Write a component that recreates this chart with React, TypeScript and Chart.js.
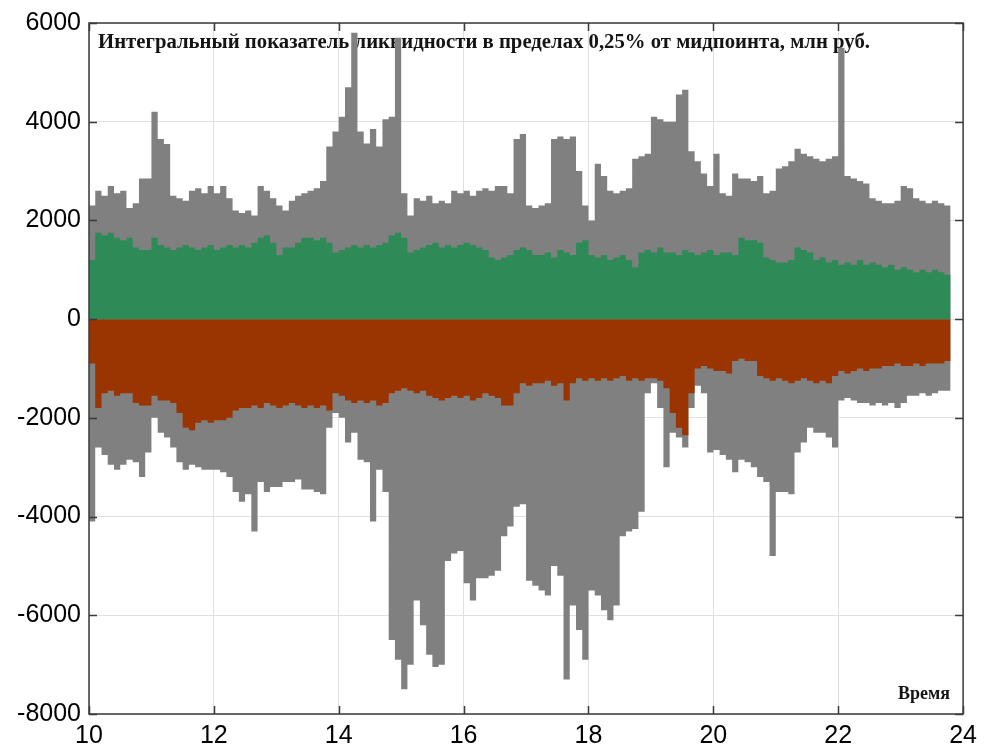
import React, { useEffect, useRef } from "react";
import { Chart, registerables } from "chart.js";

Chart.register(...registerables);

const START_HOUR = 10;
const STEP_HOUR = 0.1;

const upperTotal = [
  2300, 2600, 2500, 2700, 2550, 2600, 2250, 2350, 2850, 2850,
  4200, 3650, 3550, 2500, 2450, 2400, 2600, 2650, 2550, 2700,
  2550, 2700, 2450, 2200, 2150, 2200, 2100, 2700, 2600, 2450,
  2300, 2200, 2400, 2500, 2550, 2600, 2650, 2800, 3500, 3800,
  4100, 4700, 5800, 3800, 3560, 3850, 3500, 4050, 4100, 5700,
  2550, 2100, 2450, 2400, 2500, 2350, 2400, 2350, 2600, 2550,
  2600, 2500, 2600, 2650, 2600, 2700, 2700, 2550, 3650, 3750,
  2300, 2250, 2300, 2350, 3650, 3700, 3650, 3700, 3000, 2300,
  2000, 3150, 2900, 2600, 2550, 2600, 2650, 3250, 3300, 3350,
  4100, 4050, 4000, 4000, 4550, 4650, 3400, 3200, 2950, 2700,
  3350, 2550, 2500, 2950, 2850, 2850, 2800, 2900, 2550, 2600,
  3050, 3100, 3200, 3450, 3350, 3300, 3250, 3200, 3250, 3300,
  5500, 2900, 2850, 2800, 2750, 2450, 2400, 2350, 2350, 2400,
  2700, 2650, 2450, 2400, 2350, 2400, 2350, 2300, 2300,
];

const bidLiquidity = [
  1200, 1750, 1700, 1750, 1650, 1600, 1650, 1450, 1400, 1400,
  1650, 1500, 1450, 1400, 1450, 1500, 1450, 1400, 1450, 1500,
  1400, 1450, 1500, 1450, 1500, 1450, 1550, 1650, 1700, 1550,
  1300, 1450, 1450, 1550, 1650, 1650, 1600, 1650, 1550, 1350,
  1400, 1450, 1500, 1450, 1500, 1450, 1500, 1550, 1700, 1750,
  1650, 1350, 1400, 1450, 1500, 1550, 1450, 1500, 1450, 1500,
  1550, 1500, 1450, 1400, 1250, 1200, 1250, 1300, 1400, 1450,
  1400, 1300, 1300, 1350, 1250, 1400, 1350, 1300, 1550, 1600,
  1300, 1250, 1300, 1200, 1250, 1300, 1200, 1050, 1350, 1400,
  1350, 1450, 1350, 1350, 1300, 1400, 1350, 1300, 1350, 1400,
  1300, 1350, 1350, 1300, 1650, 1600, 1600, 1550, 1250, 1200,
  1150, 1150, 1200, 1450, 1400, 1350, 1200, 1250, 1150, 1200,
  1100, 1150, 1100, 1200, 1100, 1150, 1100, 1050, 1100, 1000,
  1050, 1000, 950, 1000, 950, 1000, 950, 900, 900,
];

const askLiquidity = [
  -900, -1800, -1500, -1450, -1550, -1500, -1500, -1700, -1750, -1750,
  -1550, -1650, -1650, -1700, -1900, -2200, -2250, -2100, -2050, -2100,
  -2050, -2050, -2000, -1850, -1800, -1800, -1750, -1800, -1700, -1750,
  -1800, -1750, -1700, -1750, -1800, -1750, -1800, -1750, -1850, -1500,
  -1550, -1650, -1700, -1650, -1700, -1650, -1750, -1700, -1500, -1450,
  -1400, -1450, -1500, -1450, -1550, -1600, -1650, -1600, -1550, -1600,
  -1550, -1650, -1600, -1500, -1550, -1600, -1750, -1750, -1500, -1300,
  -1350, -1300, -1300, -1250, -1350, -1300, -1650, -1300, -1200, -1250,
  -1200, -1250, -1200, -1250, -1200, -1150, -1250, -1200, -1250, -1200,
  -1200, -1250, -1400, -1900, -2200, -2350, -1500, -1000, -950, -1000,
  -1050, -1050, -1100, -850, -800, -850, -850, -1150, -1200, -1250,
  -1200, -1250, -1300, -1250, -1200, -1250, -1300, -1250, -1300, -1150,
  -1050, -1100, -1050, -1000, -1050, -1000, -1000, -950, -950, -900,
  -950, -950, -900, -950, -900, -900, -900, -850, -850,
];

const lowerTotal = [
  -4100, -2600, -2750, -2950, -3050, -2950, -2850, -2900, -3200, -2700,
  -2000, -2300, -2400, -2600, -2900, -3050, -2950, -3000, -3050, -3050,
  -3050, -3100, -3200, -3500, -3700, -3550, -4300, -3300, -3500, -3400,
  -3400, -3300, -3300, -3250, -3450, -3450, -3500, -3550, -2200, -1900,
  -2000, -2500, -2300, -2850, -2900, -4100, -3050, -3500, -6500, -6900,
  -7500, -7000, -5700, -6200, -6800, -7050, -7000, -4900, -4750, -4700,
  -5350, -5700, -5250, -5250, -5200, -5100, -4400, -4200, -3800, -3750,
  -5300, -5400, -5500, -5600, -5000, -5200, -7300, -5800, -6300, -6900,
  -5500, -5600, -5900, -6100, -5800, -4400, -4300, -4250, -3900, -1500,
  -1300, -1800, -3000, -2300, -2400, -2600, -1800, -1350, -1500, -2700,
  -2650, -2750, -2850, -3100, -2850, -2900, -3000, -3200, -3300, -4800,
  -3500, -3500, -3550, -2700, -2500, -2200, -2300, -2300, -2400, -2600,
  -1650, -1600, -1650, -1700, -1700, -1750, -1700, -1750, -1700, -1800,
  -1700, -1550, -1550, -1500, -1550, -1500, -1450, -1450, -1400,
];

const xTicks = [10, 12, 14, 16, 18, 20, 22, 24];
const yTicks = [-8000, -6000, -4000, -2000, 0, 2000, 4000, 6000];

const TITLE = "Интегральный показатель ликвидности в пределах 0,25% от мидпоинта, млн руб.";
const X_LABEL = "Время";

const toPoints = (vals: number[]) =>
  vals.map((v, i) => ({ x: +(START_HOUR + i * STEP_HOUR).toFixed(2), y: v }));

const overlayPlugin = {
  id: "overlay",
  beforeDatasetsDraw(chart: any) {
    const { ctx, chartArea } = chart;
    ctx.save();
    ctx.fillStyle = "#141414";
    ctx.textBaseline = "alphabetic";
    ctx.textAlign = "left";
    ctx.font = 'bold 20px "Liberation Serif", "Times New Roman", serif';
    const w = ctx.measureText(TITLE).width;
    ctx.translate(chartArea.left + 9, chartArea.top + 25);
    ctx.scale(772 / w, 1);
    ctx.fillText(TITLE, 0, 0);
    ctx.restore();

    ctx.save();
    ctx.fillStyle = "#141414";
    ctx.font = 'bold 18px "Liberation Serif", "Times New Roman", serif';
    ctx.textAlign = "right";
    ctx.textBaseline = "alphabetic";
    ctx.fillText(X_LABEL, chartArea.right - 13, chartArea.bottom - 15);
    ctx.restore();
  },
  afterDatasetsDraw(chart: any) {
    const { ctx, chartArea, scales } = chart;
    const { left, right, top, bottom } = chartArea;
    ctx.save();
    ctx.strokeStyle = "#3a3a3a";
    ctx.lineWidth = 1.5;
    ctx.beginPath();
    scales.x.ticks.forEach((t: any) => {
      const px = Math.round(scales.x.getPixelForValue(t.value)) + 0.5;
      ctx.moveTo(px, bottom);
      ctx.lineTo(px, bottom - 8);
      ctx.moveTo(px, top);
      ctx.lineTo(px, top + 8);
    });
    scales.y.ticks.forEach((t: any) => {
      const py = Math.round(scales.y.getPixelForValue(t.value)) + 0.5;
      ctx.moveTo(left, py);
      ctx.lineTo(left + 8, py);
      ctx.moveTo(right, py);
      ctx.lineTo(right - 8, py);
    });
    ctx.stroke();
    ctx.strokeRect(left, top, right - left, bottom - top);
    ctx.restore();
  },
};

export default function App() {
  const ref = useRef<HTMLCanvasElement | null>(null);

  useEffect(() => {
    document.body.style.margin = "0";
    const canvas = ref.current;
    if (!canvas) return;
    const common = {
      fill: "origin",
      borderWidth: 0,
      pointRadius: 0,
      stepped: "before" as const,
      tension: 0,
    };
    const tickFont = { family: '"Liberation Sans", Arial, sans-serif', size: 25 };
    const chart = new Chart(canvas, {
      type: "line",
      data: {
        datasets: [
          { ...common, label: "bid", data: toPoints(bidLiquidity), backgroundColor: "#2e8a57", borderColor: "#2e8a57" },
          { ...common, label: "ask", data: toPoints(askLiquidity), backgroundColor: "#9a3400", borderColor: "#9a3400" },
          { ...common, label: "upper", data: toPoints(upperTotal), backgroundColor: "#808080", borderColor: "#808080" },
          { ...common, label: "lower", data: toPoints(lowerTotal), backgroundColor: "#808080", borderColor: "#808080" },
        ] as any,
      },
      options: {
        animation: false,
        responsive: false,
        devicePixelRatio: 1,
        layout: { padding: { left: 0, right: 20, top: 22, bottom: 0 } },
        plugins: { legend: { display: false }, tooltip: { enabled: false }, title: { display: false } },
        elements: { line: { borderWidth: 0 } },
        scales: {
          x: {
            type: "linear",
            min: 10,
            max: 24,
            afterBuildTicks: (scale: any) => {
              scale.ticks = xTicks.map((v) => ({ value: v }));
            },
            afterFit: (scale: any) => {
              scale.height = 35;
            },
            ticks: {
              color: "#000",
              font: tickFont,
              padding: 7,
              maxRotation: 0,
              callback: (v: any) => String(v),
            },
            grid: { color: "#e0e0e0", lineWidth: 1, drawTicks: false },
            border: { display: false },
          },
          y: {
            type: "linear",
            min: -8000,
            max: 6000,
            afterBuildTicks: (scale: any) => {
              scale.ticks = yTicks.map((v) => ({ value: v }));
            },
            afterFit: (scale: any) => {
              scale.width = 89;
            },
            ticks: {
              color: "#000",
              font: tickFont,
              padding: 8,
              callback: (v: any) => String(v),
            },
            grid: { color: "#e0e0e0", lineWidth: 1, drawTicks: false },
            border: { display: false },
          },
        },
      },
      plugins: [overlayPlugin],
    });
    return () => chart.destroy();
  }, []);

  return (
    <div style={{ width: 984, height: 749, background: "#fff" }}>
      <canvas ref={ref} width={984} height={749} style={{ display: "block" }} />
    </div>
  );
}
